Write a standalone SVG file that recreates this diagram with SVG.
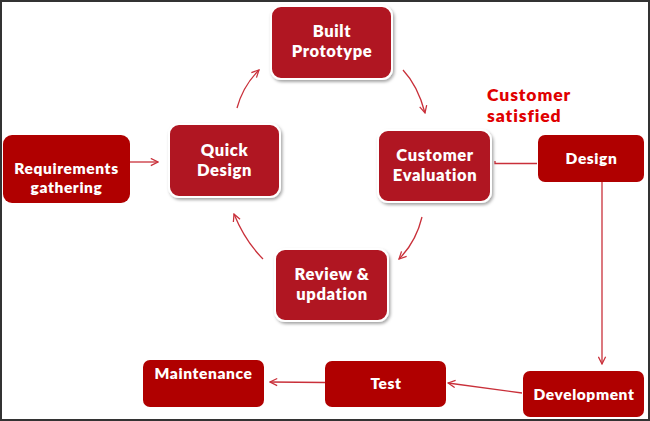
<svg xmlns="http://www.w3.org/2000/svg" width="650" height="421" viewBox="0 0 650 421">
<defs>
<filter id="sh" x="-10%" y="-10%" width="125%" height="130%">
<feDropShadow dx="1.5" dy="2" stdDeviation="1.5" flood-color="#000" flood-opacity="0.35"/>
</filter>
<marker id="ah" viewBox="0 0 10 10" refX="9" refY="5" markerWidth="9" markerHeight="9" markerUnits="userSpaceOnUse" orient="auto">
<path d="M1,1 L9,5 L1,9" fill="none" stroke="#c9303a" stroke-width="1.4"/>
</marker>
<style>
.flat{fill:#b00000}
.raised{fill:#b01822;stroke:#fff;stroke-width:2;filter:url(#sh)}
.t{font-family:Lato,"Open Sans","DejaVu Sans",sans-serif;font-weight:800;fill:#fff;text-anchor:middle;letter-spacing:0.6px}
.c{fill:none;stroke:#c9303a;stroke-width:1.3}
.red{font-family:Lato,"Open Sans","DejaVu Sans",sans-serif;font-weight:800;fill:#e00000;font-size:17.5px;letter-spacing:0.9px}
</style>
</defs>
<rect x="0" y="0" width="650" height="421" fill="#fff"/>
<rect x="1" y="1" width="648" height="419" fill="none" stroke="#333" stroke-width="2"/>
<g id="connectors">
<line class="c" x1="130" y1="162" x2="158" y2="162" marker-end="url(#ah)"/>
<path class="c" d="M237,108 Q243,86 259,70" marker-end="url(#ah)"/>
<path class="c" d="M403,70 Q418,86 425,113" marker-end="url(#ah)"/>
<path class="c" d="M422,217 Q416,242 399,259" marker-end="url(#ah)"/>
<path class="c" d="M263,259 Q245,241 234,214" marker-end="url(#ah)"/>
<path class="c" d="M537,163.5 L495,163.5 L495,161"/>
<line class="c" x1="602" y1="182" x2="602" y2="364" marker-end="url(#ah)"/>
<line class="c" x1="522" y1="393" x2="448" y2="383" marker-end="url(#ah)"/>
<line class="c" x1="325" y1="382.5" x2="270" y2="382" marker-end="url(#ah)"/>
</g>
<g id="requirements">
<rect class="flat" x="3" y="135" width="127" height="68" rx="9"/>
<text class="t" x="66.5" y="174" font-size="15.5">Requirements</text>
<text class="t" x="66.5" y="193" font-size="15.5">gathering</text>
</g>
<g id="quick-design">
<rect class="raised" x="169" y="124" width="111" height="73" rx="10"/>
<text class="t" x="224.5" y="156" font-size="16.5">Quick</text>
<text class="t" x="224.5" y="176" font-size="16.5">Design</text>
</g>
<g id="built-prototype">
<rect class="raised" x="271" y="6" width="121" height="73" rx="10"/>
<text class="t" x="332" y="36.5" font-size="16.5">Built</text>
<text class="t" x="332" y="56.5" font-size="16.5">Prototype</text>
</g>
<g id="customer-evaluation">
<rect class="raised" x="378" y="130" width="113" height="72" rx="10"/>
<text class="t" x="435" y="161" font-size="16.5">Customer</text>
<text class="t" x="435" y="181" font-size="16.5">Evaluation</text>
</g>
<g id="review-updation">
<rect class="raised" x="275" y="249" width="113" height="72" rx="10"/>
<text class="t" x="332" y="279.5" font-size="16.5">Review &amp;</text>
<text class="t" x="332" y="299.5" font-size="16.5">updation</text>
</g>
<g id="customer-satisfied">
<text class="red" x="487" y="101">Customer</text>
<text class="red" x="487" y="122">satisfied</text>
</g>
<g id="design">
<rect class="flat" x="538" y="135" width="106" height="47" rx="7"/>
<text class="t" x="591.5" y="164" font-size="15.5">Design</text>
</g>
<g id="development">
<rect class="flat" x="523" y="371" width="121" height="46" rx="7"/>
<text class="t" x="584" y="400" font-size="15.5">Development</text>
</g>
<g id="test">
<rect class="flat" x="325" y="361" width="121" height="46" rx="7"/>
<text class="t" x="386" y="389" font-size="15.5">Test</text>
</g>
<g id="maintenance">
<rect class="flat" x="143" y="360" width="121" height="47" rx="7"/>
<text class="t" x="203.5" y="379" font-size="15.5">Maintenance</text>
</g>
</svg>
